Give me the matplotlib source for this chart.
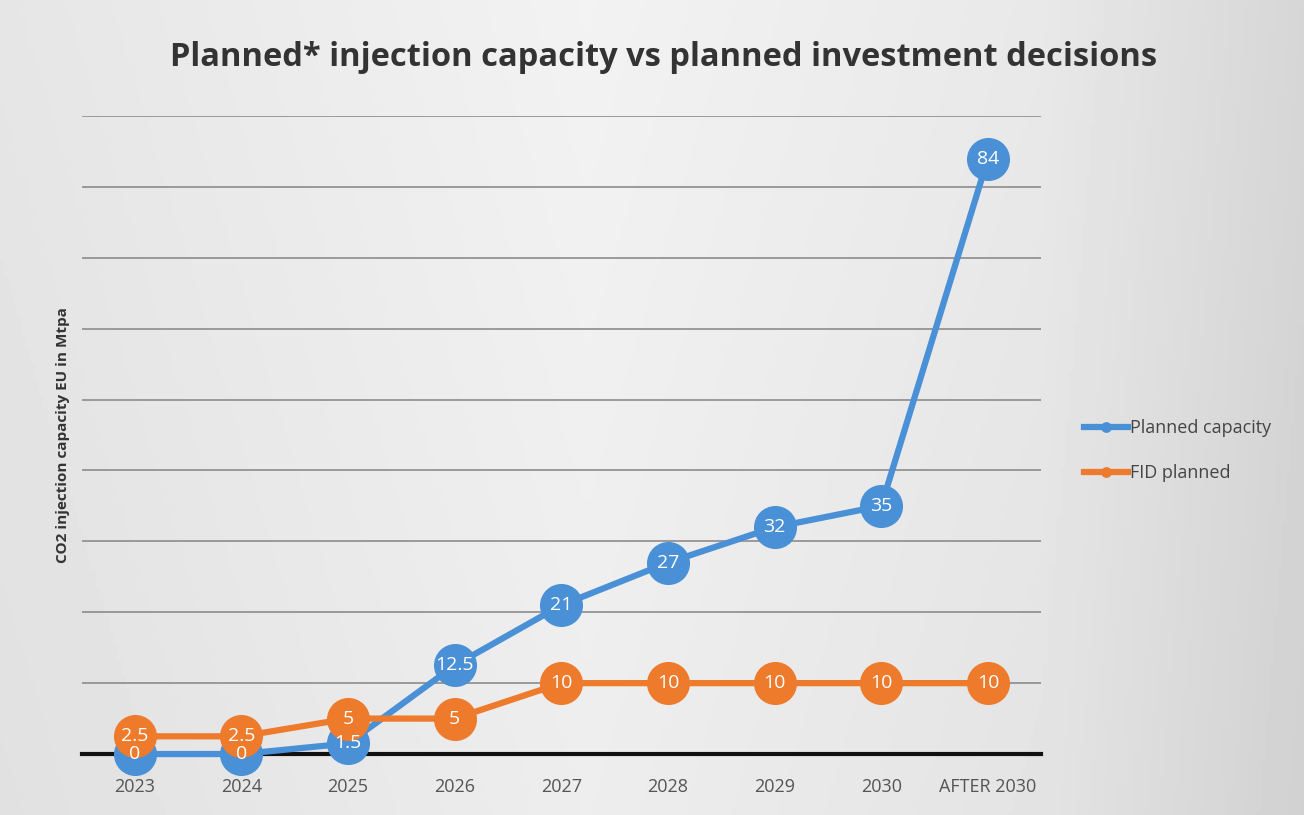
import matplotlib.pyplot as plt
import numpy as np

categories = ["2023", "2024", "2025", "2026", "2027", "2028", "2029", "2030", "AFTER 2030"]
planned_capacity = [0, 0, 1.5, 12.5, 21, 27, 32, 35, 84]
fid_planned = [2.5, 2.5, 5, 5, 10, 10, 10, 10, 10]
cap_labels = ["0", "0", "1.5", "12.5", "21", "27", "32", "35", "84"]
fid_labels = ["2.5", "2.5", "5", "5", "10", "10", "10", "10", "10"]

blue = "#4a90d6"
orange = "#ee7a2c"
plt.rcParams['font.family'] = ['Open Sans', 'DejaVu Sans']

fig = plt.figure(figsize=(13.04, 8.15), dpi=100)

# soft grey background gradient
bg = fig.add_axes([0, 0, 1, 1], zorder=-10)
xx = np.linspace(0, 1, 300)
yy = np.linspace(0, 1, 200)
X, Y = np.meshgrid(xx, yy)
shade = 0.95 - 0.06 * np.abs(X - 0.45) / 0.55 - 0.05 * np.clip(X - 0.8, 0, None) / 0.2 - 0.02 * Y
bg.imshow(shade, cmap="gray", vmin=0, vmax=1, aspect="auto", extent=[0, 1, 0, 1])
bg.set_axis_off()

ax = fig.add_axes([0.0625, 0.0748, 0.736, 0.7829])
ax.patch.set_alpha(0)
x = np.arange(len(categories))

ax.set_ylim(0, 90)
ax.set_xlim(-0.5, len(categories) - 0.5)
ax.set_yticks(np.arange(0, 91, 10))
ax.yaxis.grid(True, color="#8c8c8c", linewidth=1.2)
ax.set_axisbelow(True)
ax.axhline(0, color="#111111", linewidth=3, zorder=2.5, clip_on=False)
for s in ax.spines.values():
    s.set_visible(False)
ax.tick_params(axis="y", left=False, labelleft=False)
ax.tick_params(axis="x", bottom=False, labelsize=13, labelcolor="#555555", pad=14)
ax.set_xticks(x)
ax.set_xticklabels(categories)

ax.plot(x, planned_capacity, color=blue, linewidth=4.5, marker="o", markersize=31,
        markeredgewidth=0, label="Planned capacity", zorder=3, clip_on=False)
ax.plot(x, fid_planned, color=orange, linewidth=4.5, marker="o", markersize=31,
        markeredgewidth=0, label="FID planned", zorder=4, clip_on=False)

for xi, v, t in zip(x, planned_capacity, cap_labels):
    ax.text(xi, v, t, ha="center", va="center", color="white", fontsize=14, zorder=6)
for xi, v, t in zip(x, fid_planned, fid_labels):
    ax.text(xi, v, t, ha="center", va="center", color="white", fontsize=14, zorder=6)

ax.set_ylabel("CO2 injection capacity EU in Mtpa", fontsize=11, fontweight="bold",
              color="#333333", labelpad=8)

leg = ax.legend(loc="center left", bbox_to_anchor=(1.028, 0.475), frameon=False,
                fontsize=13, markerscale=0.25, handlelength=2.4, handletextpad=0.1,
                labelspacing=1.5, labelcolor="#444444")

fig.text(0.509, 0.93, "Planned* injection capacity vs planned investment decisions",
         ha="center", va="center", fontsize=23.5, fontweight="bold", color="#333333")

fig.savefig("out.png", dpi=100)
